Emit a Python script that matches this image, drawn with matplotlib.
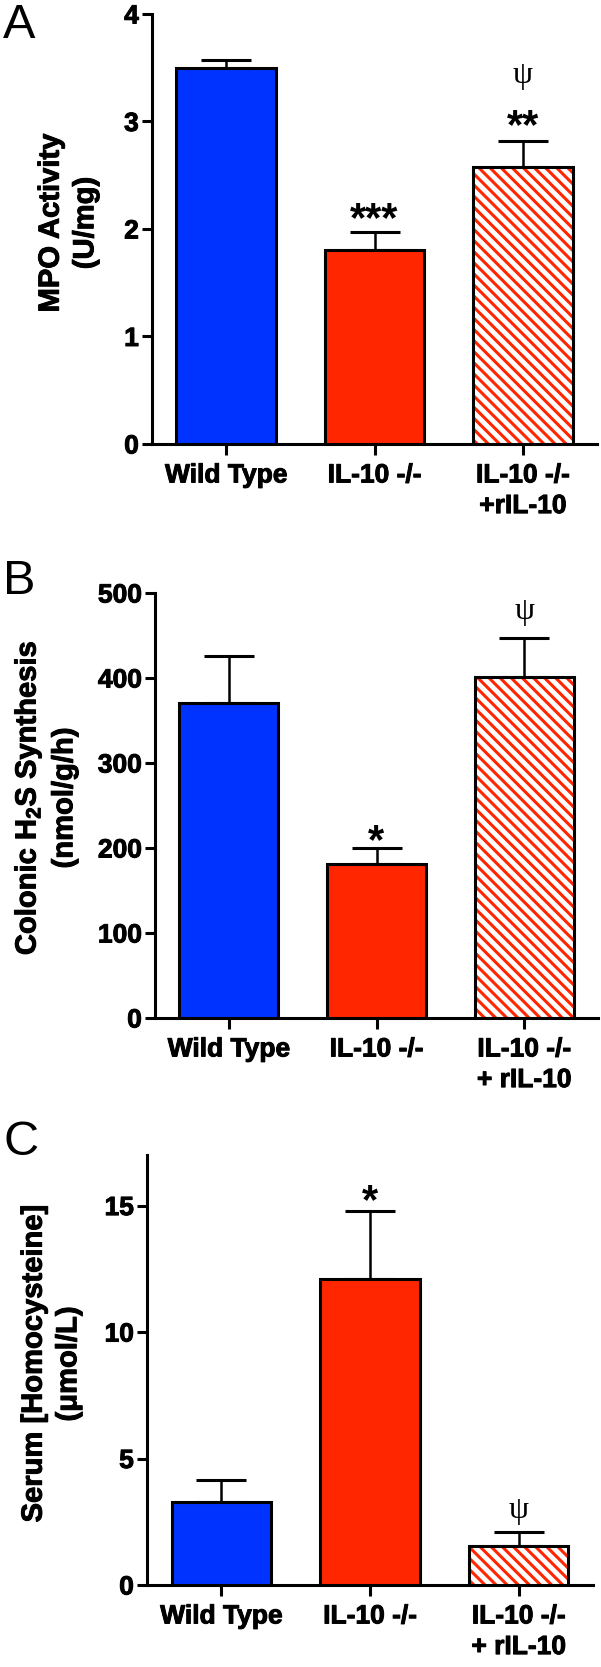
import matplotlib
matplotlib.use("Agg")
import matplotlib.pyplot as plt
import matplotlib.patheffects as pe

plt.rcParams['font.family'] = ['Liberation Sans', 'DejaVu Sans']
plt.rcParams['font.weight'] = 'bold'
plt.rcParams['mathtext.fontset'] = 'custom'
plt.rcParams['mathtext.rm'] = 'Liberation Sans:bold'
plt.rcParams['mathtext.bf'] = 'Liberation Sans:bold'
plt.rcParams['hatch.linewidth'] = 2.2

# groups / tick labels
labels_a = ['Wild Type', 'IL-10 -/-', 'IL-10 -/-\n+rIL-10']
labels_bc = ['Wild Type', 'IL-10 -/-', 'IL-10 -/-\n+ rIL-10']

# panel A: MPO activity (U/mg)
mpo_mean = [3.50, 1.80, 2.58]
mpo_sem = [0.07, 0.17, 0.24]
mpo_stars = ['', '***', '**']
mpo_psi = [False, False, True]

# panel B: colonic H2S synthesis (nmol/g/h)
h2s_mean = [371, 181, 401]
h2s_sem = [55, 19, 46]
h2s_stars = ['', '*', '']
h2s_psi = [False, False, True]

# panel C: serum homocysteine (umol/L)
hcy_mean = [3.27, 12.1, 1.56]
hcy_sem = [0.88, 2.7, 0.54]
hcy_stars = ['', '*', '']
hcy_psi = [False, False, True]

BLUE = '#0033ff'
RED = '#ff2600'
W, H = 601, 1667
heavy = [pe.withStroke(linewidth=0.7, foreground='black')]

fig = plt.figure(figsize=(W / 100, H / 100), dpi=100)


def axes_px(left, top, right, bottom):
    return fig.add_axes([left / W, 1 - bottom / H, (right - left) / W, (bottom - top) / H])


def panel(ax, means, sems, labels, ylim, yticks, stars, psi, star_off, psi_off):
    x = list(range(len(means)))
    ax.bar(x[:2], means[:2], width=0.67, color=[BLUE, RED], edgecolor='black',
           linewidth=2.2, zorder=3)
    # hatched bar: red hatch on white, black outline on top
    ax.bar(x[2], means[2], width=0.67, color='white', edgecolor=RED, hatch='\\\\\\',
           linewidth=0, zorder=3)
    ax.bar(x[2], means[2], width=0.67, fill=False, edgecolor='black', linewidth=2.2, zorder=4)
    ax.errorbar(x, means, yerr=[[0] * len(sems), sems], fmt='none', ecolor='black',
                elinewidth=1.8, capsize=18, capthick=2.2, zorder=2)

    for i in x:
        top = means[i] + sems[i]
        if stars[i]:
            ax.annotate(stars[i], (i, top), xytext=(0, star_off[i]), textcoords='offset points',
                        ha='center', va='baseline', fontsize=30, fontweight='bold')
        if psi[i]:
            ax.annotate('ψ', (i, top), xytext=(0, psi_off[i]), textcoords='offset points',
                        ha='center', va='baseline', fontsize=23, fontweight='normal',
                        family=['Liberation Serif', 'DejaVu Serif'])

    ax.set_xlim(-0.5, 2.5)
    ax.set_ylim(*ylim)
    ax.set_yticks(yticks)
    ax.set_xticks(x, labels)
    for s in ['top', 'right']:
        ax.spines[s].set_visible(False)
    for s in ['left', 'bottom']:
        ax.spines[s].set_linewidth(2.2)
    ax.tick_params(axis='y', direction='out', length=7.5, width=2.2, pad=2, labelsize=19)
    ax.tick_params(axis='x', direction='out', length=8, width=2.2, pad=6, labelsize=19)
    for t in ax.get_xticklabels() + ax.get_yticklabels():
        t.set_path_effects(heavy)
    for t in ax.get_xticklabels():
        t.set_linespacing(1.35)


axA = axes_px(152, 14, 597, 444)
panel(axA, mpo_mean, mpo_sem, labels_a, (0, 4), [0, 1, 2, 3, 4], mpo_stars, mpo_psi,
      [0, 1, 2], [0, 0, 42])

axB = axes_px(155, 593, 598, 1018)
panel(axB, h2s_mean, h2s_sem, labels_bc, (0, 500), [0, 100, 200, 300, 400, 500], h2s_stars,
      h2s_psi, [0, -4, 0], [0, 0, 14])

axC = axes_px(147, 1155, 593, 1585)
panel(axC, hcy_mean, hcy_sem, labels_bc, (0, 17), [0, 5, 10, 15], hcy_stars, hcy_psi,
      [0, -2, 0], [0, 0, 10])

# y axis titles
ylab = dict(rotation=90, ha='center', va='center', rotation_mode='anchor',
            multialignment='center', fontsize=21, fontweight='bold', linespacing=1.3,
            path_effects=heavy)
fig.text(68 / W, 1 - 223 / H, 'MPO Activity\n(U/mg)', **ylab)
fig.text(45 / W, 1 - 798 / H, 'Colonic H$_{2}$S Synthesis\n(nmol/g/h)', **ylab)
fig.text(51 / W, 1 - 1364 / H, 'Serum [Homocysteine]\n(μmol/L)', **ylab)

# panel letters
for letter, base in [('A', 38), ('B', 594), ('C', 1155)]:
    fig.text(3 / W, 1 - base / H, letter, fontsize=35, fontweight='normal',
             ha='left', va='baseline')

fig.savefig('out.png', dpi=100)
